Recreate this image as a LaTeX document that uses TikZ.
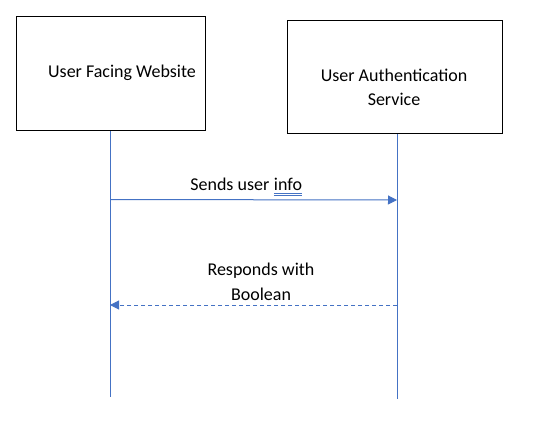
\documentclass[tikz,border=0pt]{standalone}
\usepackage{fontspec}
\setmainfont{Carlito}
\usetikzlibrary{arrows.meta}
\definecolor{lineblue}{RGB}{68,114,196}
\begin{document}
\begin{tikzpicture}[x=1pt,y=-1pt,
  actor/.style={draw=black,line width=1pt,inner sep=0pt},
  life/.style={draw=lineblue,line width=1pt},
  msg/.style={draw=lineblue,line width=1pt,-{Triangle[length=9pt,width=9pt]}},
  lbl/.style={font=\fontsize{18}{24.5}\selectfont,align=center,inner sep=0pt}]
\useasboundingbox[fill=white] (0,0) rectangle (541,433);
\node[actor,minimum width=189pt,minimum height=114pt] (web) at (110.5,74) {};
\node[lbl] (webtext) at (122,73) {User Facing Website};
\node[actor,minimum width=215pt,minimum height=113pt] (auth) at (394.5,77.5) {};
\node[lbl] (authtext) at (394,87.5) {User Authentication\\Service};
\coordinate (webend) at (110,397);
\coordinate (authend) at (397,399);
\draw[life] (web.south -| webend) -- (webend);
\draw[life] (auth.south -| authend) -- (authend);
\coordinate (m1a) at (110,199.5);
\coordinate (m1b) at (397,200);
\draw[msg] (m1a) -- (m1b);
\node[lbl] (l1) at (246.5,187) {Sends user \tikz[baseline]{\node[inner sep=0pt,anchor=base] (inf) {info};\draw[lineblue,line width=0.8pt] ([yshift=-2.5pt]inf.base west) -- ([yshift=-2.5pt]inf.base east);\draw[lineblue,line width=0.8pt] ([yshift=-4.8pt]inf.base west) -- ([yshift=-4.8pt]inf.base east);}};
\coordinate (m2a) at (397,305);
\coordinate (m2b) at (110,305);
\draw[msg,dashed,dash pattern=on 4pt off 3pt] (m2a) -- (m2b);
\node[lbl] (l2) at (261,282) {Responds with\\Boolean};
\end{tikzpicture}
\end{document}
